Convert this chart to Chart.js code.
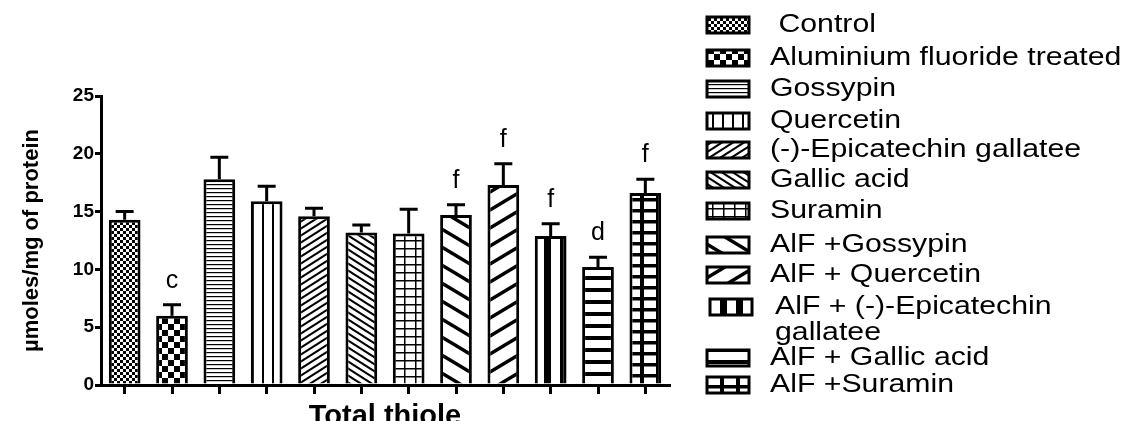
<!DOCTYPE html>
<html>
<head>
<meta charset="utf-8">
<script src="https://cdn.jsdelivr.net/npm/chart.js@4.4.1/dist/chart.umd.min.js"></script>
<style>
  html, body { margin: 0; padding: 0; background: #fff; }
  #wrap { width: 1124px; height: 421px; }
</style>
</head>
<body>
<div id="wrap"><canvas id="grafico" width="1124" height="421"></canvas></div>
<script>
// groups, means, SEM (upper half only) and significance letters
const grupos = [' Control', 'Aluminium fluoride treated', 'Gossypin', 'Quercetin',
  '(-)-Epicatechin gallatee', 'Gallic acid', 'Suramin', 'AlF +Gossypin', 'AlF + Quercetin',
  ['AlF + (-)-Epicatechin', 'gallatee'], 'AlF + Gallic acid', 'AlF +Suramin'];
const valores = [14.3, 6.0, 17.8, 15.9, 14.6, 13.2, 13.1, 14.7, 17.3, 12.9, 10.2, 16.6];
const erros = [0.7, 0.95, 1.9, 1.3, 0.7, 0.65, 2.1, 0.9, 1.85, 1.05, 0.85, 1.2];
const letras = ['', 'c', '', '', '', '', '', 'f', 'f', 'f', 'd', 'f'];

const FONTE = '"Liberation Sans", Arial, Helvetica, sans-serif';
// legend layout (row centres, px)
const LEG_Y = [25, 58, 89, 121, 150, 180, 211, 245, 275, 307, 358, 385];

// small tiles for the hatch fills
function tile(w, h, desenha) {
  const c = document.createElement('canvas');
  c.width = w; c.height = h;
  const g = c.getContext('2d');
  g.fillStyle = '#fff';
  g.fillRect(0, 0, w, h);
  g.fillStyle = '#000';
  g.strokeStyle = '#000';
  desenha(g, w, h);
  return c;
}
function diagonal(g, w, h, lw, sobe) {
  g.lineWidth = lw;
  for (let k = -1; k <= 2; k++) {
    g.beginPath();
    if (sobe) { g.moveTo(-w, 2 * h + (k - 1) * h); g.lineTo(2 * w, -h + (k - 1) * h); }
    else { g.moveTo(-w, -h + (k - 1) * h); g.lineTo(2 * w, 2 * h + (k - 1) * h); }
    g.stroke();
  }
}
function montarPadroes(ctx) {
  const tiles = [
    tile(6, 6, g => { g.fillRect(0, 0, 3, 3); g.fillRect(3, 3, 3, 3); }),
    tile(12, 12, g => { g.fillRect(0, 0, 6, 6); g.fillRect(6, 6, 6, 6); }),
    tile(4, 4, g => g.fillRect(0, 0, 4, 1.2)),
    tile(10, 10, g => g.fillRect(2, 0, 2, 10)),
    tile(11, 7, (g, w, h) => diagonal(g, w, h, 2, true)),
    tile(11, 7, (g, w, h) => diagonal(g, w, h, 2, false)),
    tile(11, 8, g => { g.fillRect(0, 0, 11, 1.5); g.fillRect(8, 0, 1.5, 8); }),
    tile(30, 18, (g, w, h) => diagonal(g, w, h, 3.5, false)),
    tile(30, 18, (g, w, h) => diagonal(g, w, h, 3.5, true)),
    tile(16, 16, g => g.fillRect(0, 0, 7, 16)),
    tile(12, 12, g => g.fillRect(0, 0, 12, 4)),
    tile(16, 11, g => { g.fillRect(0, 0, 16, 3.5); g.fillRect(0, 0, 4, 11); })
  ];
  return tiles.map(t => ctx.createPattern(t, 'repeat'));
}

// error bars + letters above them
const barrasErro = {
  id: 'barrasErro',
  afterDatasetsDraw(chart) {
    const { ctx, scales: { y } } = chart;
    const meta = chart.getDatasetMeta(0);
    ctx.save();
    ctx.strokeStyle = '#000';
    ctx.lineWidth = 3;
    meta.data.forEach((bar, i) => {
      const topo = y.getPixelForValue(valores[i] + erros[i]);
      ctx.beginPath();
      ctx.moveTo(bar.x, bar.y);
      ctx.lineTo(bar.x, topo);
      ctx.moveTo(bar.x - 9, topo);
      ctx.lineTo(bar.x + 9, topo);
      ctx.stroke();
      if (letras[i]) {
        ctx.font = '25px ' + FONTE;
        ctx.fillStyle = '#000';
        ctx.textAlign = 'center';
        ctx.textBaseline = 'alphabetic';
        ctx.fillText(letras[i], bar.x, topo - 17);
      }
    });
    ctx.restore();
  }
};

// legend on the right (text is a bit wide in the original)
const legendaLateral = {
  id: 'legendaLateral',
  afterDraw(chart) {
    const ctx = chart.ctx;
    const fundos = chart.data.datasets[0].backgroundColor;
    ctx.save();
    grupos.forEach((nome, i) => {
      const yc = LEG_Y[i];
      const x0 = i === 9 ? 710 : 707;
      ctx.fillStyle = fundos[i];
      ctx.fillRect(x0, yc - 8, 42, 16);
      ctx.lineWidth = 3;
      ctx.strokeStyle = '#000';
      ctx.strokeRect(x0, yc - 8, 42, 16);
      const linhas = Array.isArray(nome) ? nome : [nome];
      linhas.forEach((t, k) => {
        ctx.save();
        ctx.translate(i === 9 ? 775 : 770, yc + k * 26);
        ctx.scale(1.21, 1);
        ctx.font = '25px ' + FONTE;
        ctx.fillStyle = '#000';
        ctx.textAlign = 'left';
        ctx.textBaseline = 'middle';
        ctx.fillText(t, 0, 0);
        ctx.restore();
      });
    });
    ctx.restore();
  }
};

const canvas = document.getElementById('grafico');
const ctx = canvas.getContext('2d');

new Chart(ctx, {
  type: 'bar',
  data: {
    labels: grupos,
    datasets: [{
      data: valores,
      backgroundColor: montarPadroes(ctx),
      borderColor: '#000',
      borderWidth: 3,
      barPercentage: 0.67,
      categoryPercentage: 1
    }]
  },
  options: {
    responsive: false,
    animation: false,
    devicePixelRatio: 1,
    layout: { padding: { top: 96, right: 455, bottom: 0, left: 0 } },
    plugins: { legend: { display: false }, tooltip: { enabled: false } },
    scales: {
      x: {
        border: { display: true, color: '#000', width: 3 },
        grid: { drawOnChartArea: false, drawTicks: true, tickLength: 9, color: '#000', lineWidth: 3, offset: false },
        ticks: { display: false },
        title: {
          display: true, text: 'Total thiole', color: '#000',
          font: { family: FONTE, size: 29, weight: 'bold' },
          padding: { top: 0, bottom: -13 }
        },
        afterFit: s => { s.height = 36; }
      },
      y: {
        min: 0, max: 25,
        border: { display: true, color: '#000', width: 3 },
        grid: { drawOnChartArea: false, drawTicks: true, tickLength: 6, color: '#000', lineWidth: 3 },
        ticks: { stepSize: 5, color: '#000', padding: 1, font: { family: FONTE, size: 19, weight: 'bold' } },
        title: {
          display: true, text: 'µmoles/mg of protein', color: '#000',
          font: { family: FONTE, size: 22, weight: 'bold' },
          padding: { top: 19, bottom: 0 }
        },
        afterFit: s => { s.width = 101; }
      }
    }
  },
  plugins: [barrasErro, legendaLateral]
});
</script>
</body>
</html>
